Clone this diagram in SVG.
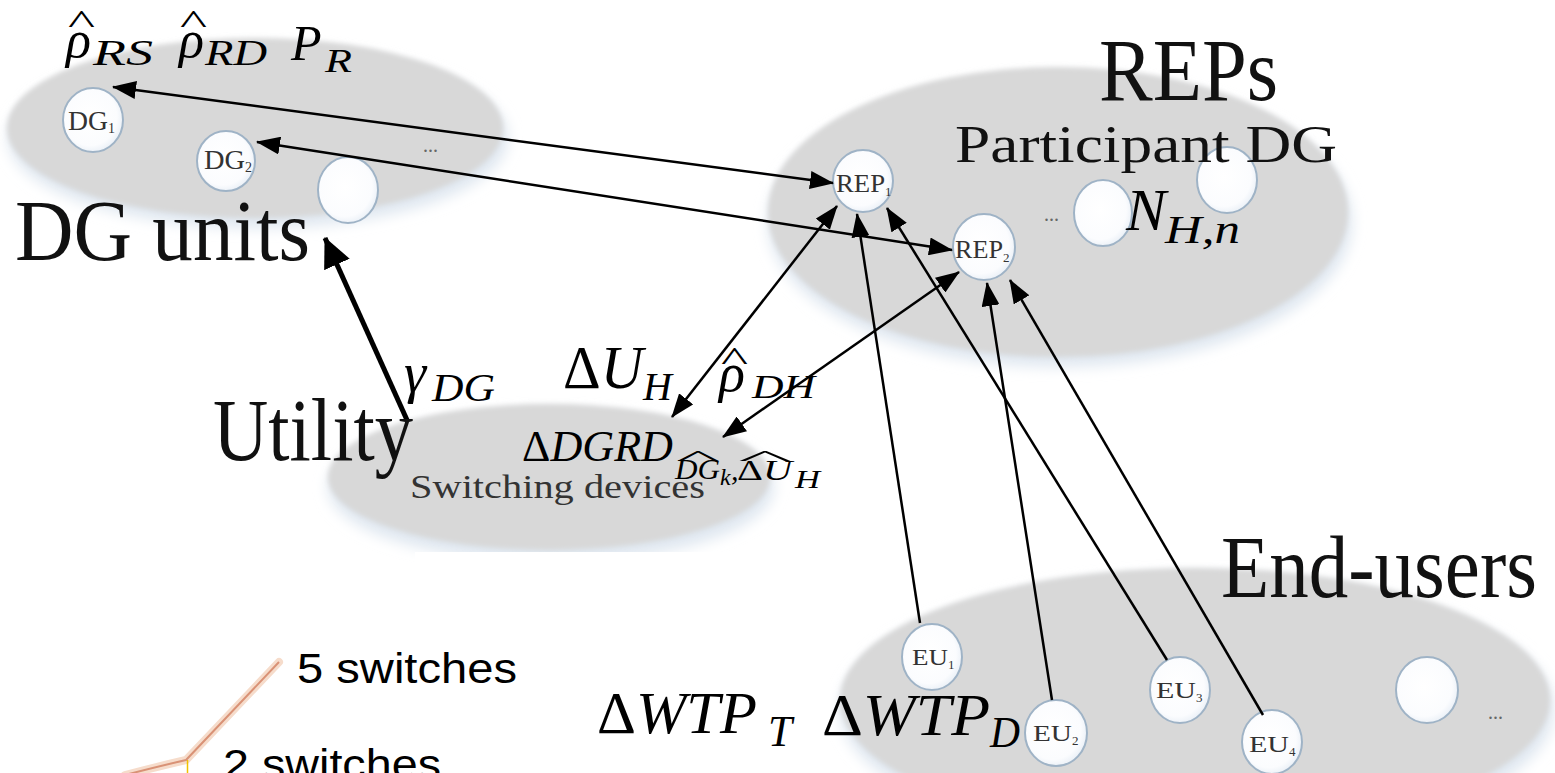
<svg xmlns="http://www.w3.org/2000/svg" width="1555" height="773" viewBox="0 0 1555 773">
<defs>
<style>
.grp{fill:#d8d8d8}
.glow{fill:#dfe7f0}
.node{fill:url(#ng);stroke:#9fb3c6;stroke-width:2}
.big{font-family:"Liberation Serif",serif;fill:#111}
.lab{font-family:"Liberation Serif",serif;fill:#333}
.m{font-family:"Liberation Serif",serif;font-style:italic;fill:#000}
.up{font-style:normal}
.dots{font-family:"Liberation Serif",serif;fill:#666;font-size:20px}
.sans{font-family:"Liberation Sans",Arial,sans-serif;fill:#000}
.ln{stroke:#000;stroke-width:2.5;fill:none}
</style>
<radialGradient id="ng" cx="0.45" cy="0.45" r="0.6"><stop offset="0" stop-color="#ffffff"/><stop offset="0.75" stop-color="#fbfcfe"/><stop offset="1" stop-color="#e6edf5"/></radialGradient>
<filter id="soft" x="-10%" y="-20%" width="120%" height="140%"><feGaussianBlur stdDeviation="2.5"/></filter>
<filter id="blur8" x="-10%" y="-30%" width="120%" height="160%"><feGaussianBlur stdDeviation="7"/></filter>
<marker id="ah" viewBox="0 0 24 18" refX="23" refY="9" markerWidth="24" markerHeight="18" markerUnits="userSpaceOnUse" orient="auto-start-reverse"><path d="M0,0 L24,9 L0,18 z" fill="#000"/></marker>
<marker id="ahb" viewBox="0 0 30 28" refX="29" refY="14" markerWidth="30" markerHeight="28" markerUnits="userSpaceOnUse" orient="auto"><path d="M0,0 L30,14 L0,28 z" fill="#000"/></marker>
</defs>
<rect width="1555" height="773" fill="#fff"/>

<g id="group-dg">
<ellipse class="glow" cx="258" cy="138" rx="250" ry="90" filter="url(#blur8)"/>
<ellipse class="grp" cx="255" cy="128" rx="248" ry="90" filter="url(#soft)"/>
</g>
<g id="group-rep">
<ellipse class="glow" cx="1060" cy="222" rx="292" ry="145" filter="url(#blur8)"/>
<ellipse class="grp" cx="1058" cy="212" rx="290" ry="145" filter="url(#soft)"/>
</g>
<g id="group-utility">
<ellipse class="glow" cx="551" cy="487" rx="223" ry="75" filter="url(#blur8)"/>
<ellipse class="grp" cx="549" cy="477" rx="221" ry="73" filter="url(#soft)"/>
</g>
<g id="group-eu">
<ellipse class="glow" cx="1197" cy="710" rx="357" ry="135" filter="url(#blur8)"/>
<ellipse class="grp" cx="1195" cy="700" rx="355" ry="132" filter="url(#soft)"/>
</g>

<rect id="inset-bg" x="415" y="552" width="415" height="221" fill="#fff"/>

<g id="dg1"><ellipse class="node" cx="93" cy="120" rx="30" ry="32"/><text class="lab" x="68" y="130" font-size="27" textLength="40" lengthAdjust="spacingAndGlyphs">DG</text><text class="lab" x="108" y="133" font-size="14">1</text></g>
<g id="dg2"><ellipse class="node" cx="226" cy="161" rx="29" ry="30"/><text class="lab" x="204" y="169" font-size="27" textLength="41" lengthAdjust="spacingAndGlyphs">DG</text><text class="lab" x="245" y="172" font-size="14">2</text></g>
<g id="dg3"><ellipse class="node" cx="348" cy="190" rx="30" ry="33"/></g>
<text class="dots" x="423" y="152">...</text>

<g id="rep1"><ellipse class="node" cx="863" cy="181" rx="30" ry="31"/><text class="lab" x="836" y="192" font-size="25" textLength="49" lengthAdjust="spacingAndGlyphs">REP</text><text class="lab" x="885" y="196" font-size="13">1</text></g>
<g id="rep2"><ellipse class="node" cx="984" cy="247" rx="31" ry="33"/><text class="lab" x="955" y="258" font-size="25" textLength="48" lengthAdjust="spacingAndGlyphs">REP</text><text class="lab" x="1003" y="262" font-size="13">2</text></g>
<g id="rep3"><ellipse class="node" cx="1103" cy="213" rx="29" ry="33"/></g>
<g id="rep4"><ellipse class="node" cx="1227" cy="180" rx="30" ry="33"/></g>
<text class="dots" x="1044" y="221">...</text>

<g id="eu1"><ellipse class="node" cx="932" cy="657" rx="30" ry="33"/><text class="lab" x="912" y="665" font-size="24" textLength="36" lengthAdjust="spacingAndGlyphs">EU</text><text class="lab" x="948" y="669" font-size="13">1</text></g>
<g id="eu2"><ellipse class="node" cx="1056" cy="733" rx="31" ry="33"/><text class="lab" x="1033" y="741" font-size="24" textLength="39" lengthAdjust="spacingAndGlyphs">EU</text><text class="lab" x="1072" y="745" font-size="13">2</text></g>
<g id="eu3"><ellipse class="node" cx="1180" cy="690" rx="30" ry="33"/><text class="lab" x="1156" y="698" font-size="24" textLength="40" lengthAdjust="spacingAndGlyphs">EU</text><text class="lab" x="1196" y="702" font-size="13">3</text></g>
<g id="eu4"><ellipse class="node" cx="1272" cy="742" rx="30" ry="32"/><text class="lab" x="1249" y="752" font-size="24" textLength="40" lengthAdjust="spacingAndGlyphs">EU</text><text class="lab" x="1289" y="756" font-size="13">4</text></g>
<g id="eu5"><ellipse class="node" cx="1427" cy="690" rx="31" ry="33"/></g>
<text class="dots" x="1488" y="719">...</text>

<g id="connectors">
<line class="ln" x1="113" y1="87" x2="833" y2="183" marker-start="url(#ah)" marker-end="url(#ah)"/>
<line class="ln" x1="257" y1="142" x2="952" y2="250" marker-start="url(#ah)" marker-end="url(#ah)"/>
<line class="ln" x1="837" y1="206" x2="672" y2="417" marker-start="url(#ah)" marker-end="url(#ah)"/>
<line class="ln" x1="959" y1="272" x2="723" y2="437" marker-start="url(#ah)" marker-end="url(#ah)"/>
<line class="ln" x1="920" y1="623" x2="857" y2="214" marker-end="url(#ah)"/>
<line class="ln" x1="1167" y1="660" x2="887" y2="208" marker-end="url(#ah)"/>
<line class="ln" x1="1052" y1="700" x2="987" y2="283" marker-end="url(#ah)"/>
<line class="ln" x1="1263" y1="715" x2="1010" y2="280" marker-end="url(#ah)"/>
<line x1="407" y1="420" x2="325" y2="238" stroke="#000" stroke-width="5" marker-end="url(#ahb)"/>
</g>

<g id="labels">
<text class="big" x="15" y="260" font-size="86" textLength="295" lengthAdjust="spacingAndGlyphs">DG units</text>
<text class="big" x="1099" y="100" font-size="88" textLength="179" lengthAdjust="spacingAndGlyphs">REPs</text>
<text class="big" x="955" y="162" font-size="53" textLength="382" lengthAdjust="spacingAndGlyphs">Participant DG</text>
<text class="big" x="213" y="460" font-size="88" textLength="200" lengthAdjust="spacingAndGlyphs">Utility</text>
<text class="lab" x="410" y="498" font-size="34" textLength="295" lengthAdjust="spacingAndGlyphs">Switching devices</text>
<text class="big" x="1221" y="597" font-size="88" textLength="316" lengthAdjust="spacingAndGlyphs">End-users</text>
</g>

<g id="math">
<text class="m up" x="68" y="33" font-size="34" textLength="27" lengthAdjust="spacingAndGlyphs">^</text>
<text class="m" x="66" y="57" font-size="52">ρ</text>
<text class="m" x="93" y="65" font-size="36" textLength="60" lengthAdjust="spacingAndGlyphs">RS</text>
<text class="m up" x="180" y="33" font-size="34" textLength="27" lengthAdjust="spacingAndGlyphs">^</text>
<text class="m" x="179" y="57" font-size="52">ρ</text>
<text class="m" x="205" y="65" font-size="36" textLength="62" lengthAdjust="spacingAndGlyphs">RD</text>
<text class="m" x="291" y="60" font-size="50">P</text>
<text class="m" x="325" y="72" font-size="34" textLength="27" lengthAdjust="spacingAndGlyphs">R</text>

<text class="m" x="404" y="392" font-size="56">γ</text>
<text class="m" x="432" y="401" font-size="40" textLength="63" lengthAdjust="spacingAndGlyphs">DG</text>

<text class="m" x="563" y="388" font-size="62" textLength="80" lengthAdjust="spacingAndGlyphs"><tspan class="up">Δ</tspan>U</text>
<text class="m" x="643" y="400" font-size="40">H</text>

<text class="m up" x="721" y="370" font-size="34" textLength="27" lengthAdjust="spacingAndGlyphs">^</text>
<text class="m" x="719" y="391" font-size="54">ρ</text>
<text class="m" x="752" y="398" font-size="34" textLength="63" lengthAdjust="spacingAndGlyphs">DH</text>

<text class="m" x="522" y="461" font-size="44" textLength="151" lengthAdjust="spacingAndGlyphs"><tspan class="up">Δ</tspan>DGRD</text>
<text class="m up" x="676" y="465" font-size="22" textLength="44" lengthAdjust="spacingAndGlyphs">^</text>
<text class="m" x="675" y="479" font-size="30" textLength="45" lengthAdjust="spacingAndGlyphs">DG</text>
<text class="m" x="720" y="485" font-size="24">k</text>
<text class="m" x="731" y="480" font-size="30">,</text>
<text class="m up" x="738" y="465" font-size="22" textLength="54" lengthAdjust="spacingAndGlyphs">^</text>
<text class="m" x="737" y="480" font-size="30" textLength="55" lengthAdjust="spacingAndGlyphs"><tspan class="up">Δ</tspan>U</text>
<text class="m" x="795" y="488" font-size="26" textLength="25" lengthAdjust="spacingAndGlyphs">H</text>

<text class="m" x="1126" y="230" font-size="60">N</text>
<text class="m" x="1165" y="243" font-size="40" textLength="75" lengthAdjust="spacingAndGlyphs">H,n</text>

<text class="m" x="597" y="733" font-size="60" textLength="160" lengthAdjust="spacingAndGlyphs"><tspan class="up">Δ</tspan>WTP</text>
<text class="m" x="768" y="746" font-size="44" textLength="24" lengthAdjust="spacingAndGlyphs">T</text>
<text class="m" x="822" y="735" font-size="60" textLength="168" lengthAdjust="spacingAndGlyphs"><tspan class="up">Δ</tspan>WTP</text>
<text class="m" x="990" y="747" font-size="44" textLength="30" lengthAdjust="spacingAndGlyphs">D</text>
</g>

<g id="chart-fragment">
<path d="M279,662 L186,760 Q160,766 125,775" fill="none" stroke="#f6dccb" stroke-width="8" stroke-linecap="round"/>
<path d="M279,662 L186,760 Q160,766 125,775" fill="none" stroke="#d99276" stroke-width="2"/>
<line x1="187.5" y1="760" x2="187.5" y2="773" stroke="#f2c200" stroke-width="1.5"/>
<text class="sans" x="297" y="683" font-size="42" textLength="220" lengthAdjust="spacingAndGlyphs">5 switches</text>
<text class="sans" x="223" y="779" font-size="42" textLength="218" lengthAdjust="spacingAndGlyphs">2 switches</text>
</g>
</svg>
